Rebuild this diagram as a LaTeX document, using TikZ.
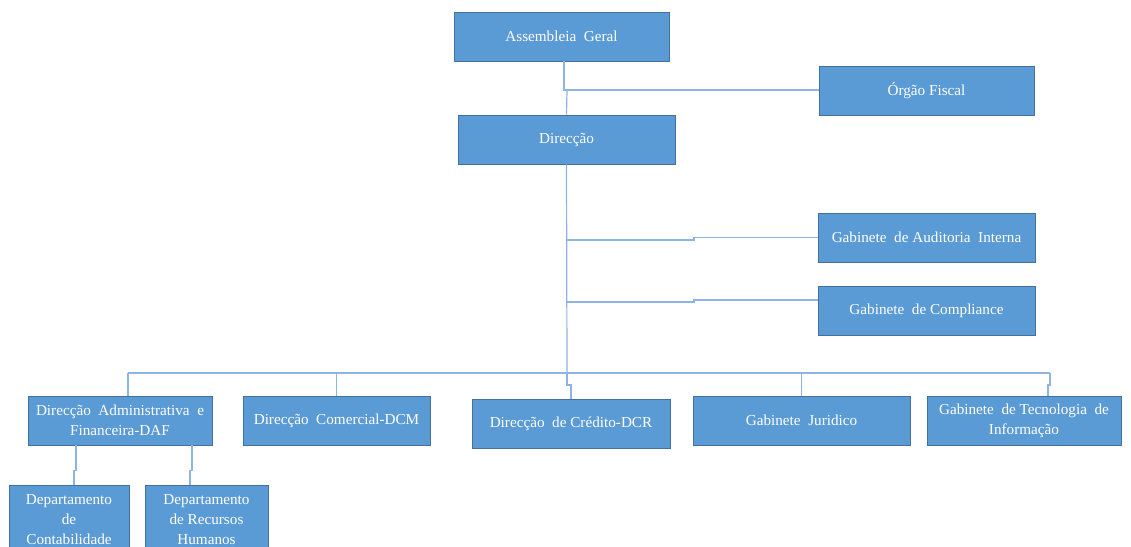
\documentclass[tikz,border=0pt]{standalone}
\usepackage{fontspec}
\setmainfont{Liberation Serif}
\begin{document}
\begin{tikzpicture}[x=0.75pt,y=-0.75pt,
  box/.style={draw=boxedge,fill=boxfill,line width=0.7pt,text=white,align=center,
    minimum height=36.75pt,inner sep=2pt,font=\fontsize{11.4}{15}\selectfont},
  conn/.style={draw=connline,line width=0.9pt}]
\definecolor{boxfill}{HTML}{5B9BD5}
\definecolor{boxedge}{HTML}{41719C}
\definecolor{connline}{HTML}{8DB4E2}
\useasboundingbox (0,0) rectangle (1131,546);
% boxes
\node[box,minimum width=161.25pt] (A) at (561.5,36.5) {Assembleia~~Geral};
\node[box,minimum width=161.25pt] (O) at (926.5,90.5) {Órgão Fiscal};
\node[box,minimum width=162.75pt] (D) at (566.5,139.5) {Direcção};
\node[box,minimum width=162.75pt] (GA) at (926.5,237.5) {Gabinete~~de Auditoria~~Interna};
\node[box,minimum width=162.75pt] (GC) at (926.5,310.5) {Gabinete~~de Compliance};
\node[box,minimum width=138pt] (DAF) at (120,420.5) {Direcção~~Administrativa~~e\\Financeira-DAF};
\node[box,minimum width=140.25pt] (DCM) at (336.5,420.5) {Direcção~~Comercial-DCM};
\node[box,minimum width=148.5pt] (DCR) at (571,423.5) {Direcção~~de Crédito-DCR};
\node[box,minimum width=162.75pt] (GJ) at (801.5,420.5) {Gabinete~~Juridico};
\node[box,minimum width=145.5pt] (GT) at (1024,420.5) {Gabinete~~de Tecnologia~~de\\Informação};
\node[box,minimum width=90pt,minimum height=52.5pt] (DC) at (69,520) {Departamento\\de\\Contabilidade};
\node[box,minimum width=92.25pt,minimum height=52.5pt] (DRH) at (206.5,520) {Departamento\\de Recursos\\Humanos};
% junction coordinates
\coordinate (a1) at (564,61);
\coordinate (a2) at (564,90);
\coordinate (d1) at (567,164);
\coordinate (t1) at (567,240);
\coordinate (t2) at (567,302);
\coordinate (bus) at (567,373);
\coordinate (ga1) at (694,240);
\coordinate (gc1) at (694,302);
\coordinate (gcin) at (818,300);
\coordinate (busL) at (128,373);
\coordinate (busR) at (1050,373);
% connectors
\draw[conn] (a1) -- (a2) -- (a2 -| O.west);
\draw[conn] (a2) -- ++(3,0) -- (D.north);
\draw[conn] (D.south) -- (bus);
\draw[conn] (t1) -- (ga1) |- (GA.west);
\draw[conn] (t2) -- (gc1) |- (gcin);
\draw[conn] (busL) -- (busR);
\draw[conn] (busL) -- (busL |- DAF.north);
\draw[conn] (DCM.north |- bus) -- (DCM.north);
\draw[conn] (bus) -- ++(0,12) -| (DCR.north);
\draw[conn] (GJ.north |- bus) -- (GJ.north);
\draw[conn] (busR) -- ++(0,12) -| (GT.north -| 1048,0);
\draw[conn] (DAF.south -| 76,0) -- ++(0,25) -| (DC.north -| 74,0);
\draw[conn] (DAF.south -| 192,0) -- ++(0,25) -| (DRH.north -| 190,0);
\end{tikzpicture}
\end{document}
